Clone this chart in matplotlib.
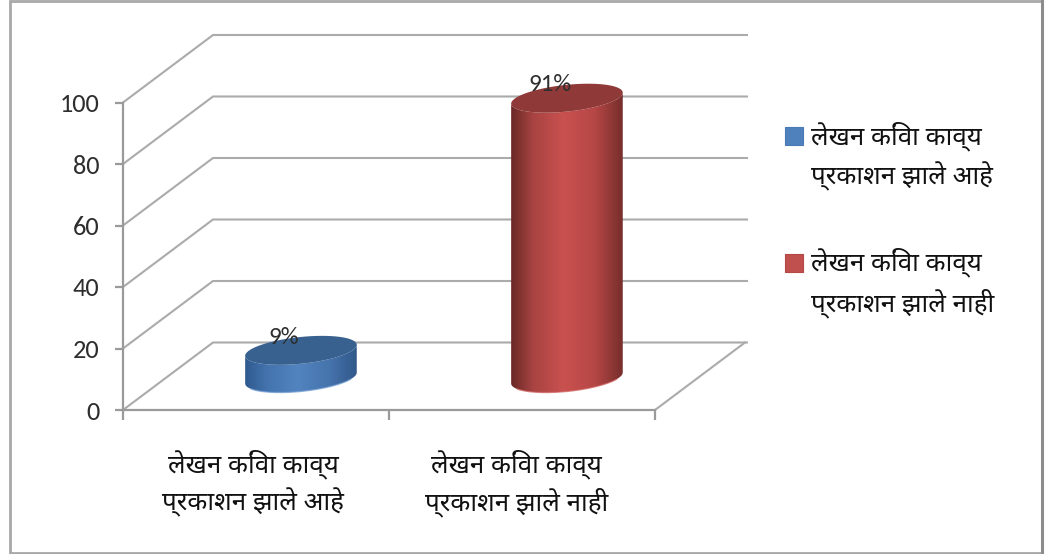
import warnings
import numpy as np
import matplotlib
matplotlib.use('Agg')
import matplotlib.pyplot as plt
from matplotlib import font_manager as fm
from matplotlib.colors import LinearSegmentedColormap
from matplotlib.legend_handler import HandlerPatch
from matplotlib.lines import Line2D
from matplotlib.patches import Patch, Polygon, PathPatch, Rectangle
from matplotlib.path import Path

warnings.filterwarnings('ignore')

# ---- data ----
categories = ['लेखन किंवा काव्य\nप्रकाशन झाले आहे', 'लेखन किंवा काव्य\nप्रकाशन झाले नाही']
values = [9, 91]
value_labels = ['9%', '91%']
y_ticks = [0, 20, 40, 60, 80, 100]

# ---- fonts ----
installed = {f.name for f in fm.fontManager.ttflist}
deva_pref = ['Noto Sans Devanagari', 'Hind', 'Mukta', 'Akshar', 'DejaVu Sans']
deva_fonts = [f for f in deva_pref if f in installed]
num_pref = ['Carlito', 'Lato', 'DejaVu Sans']
num_fonts = [f for f in num_pref if f in installed]
plt.rcParams['font.family'] = num_fonts

W, H = 1045, 554
fig = plt.figure(figsize=(W / 100, H / 100), dpi=100, facecolor='white')

# axes box in pixels: front-left corner (123, 410), back-right corner (747, 35)
L, R, B, T = 123, 747, 410, 35
ax = fig.add_axes([L / W, 1 - B / H, (R - L) / W, (B - T) / H])
px_x = 266.0   # pixels per category
px_y = 3.075   # pixels per value unit
ax.set_xlim(0, (R - L) / px_x)
ax.set_ylim(0, (B - T) / px_y)
ax.patch.set_alpha(0)

depth_x = 90 / px_x
depth_y = 67.5 / px_y
n = len(categories)
GRID = '#ababab'
LW = 1.5

# outer frame
fig.add_artist(Rectangle((10 / W, 1 - 553 / H), 1032 / W, 552 / H, transform=fig.transFigure,
                         fill=False, ec='#a8a8a8', lw=2.0))
fig.add_artist(Line2D([1042 / W, 1042 / W], [1 - 553 / H, 1 - 1 / H], transform=fig.transFigure,
                      color='#8c8c8c', lw=2.2))

# walls and floor
for v in y_ticks:
    ax.plot([0, depth_x, ax.get_xlim()[1]], [v, v + depth_y, v + depth_y],
            color=GRID, lw=LW, zorder=1, clip_on=False, solid_joinstyle='miter')
ax.plot([n, n + depth_x], [0, depth_y], color=GRID, lw=LW, zorder=1, clip_on=False)

# axes
for s in ['top', 'right']:
    ax.spines[s].set_visible(False)
for s in ['left', 'bottom']:
    ax.spines[s].set_color('#9a9a9a')
    ax.spines[s].set_linewidth(1.6)
ax.spines['left'].set_bounds(0, max(y_ticks))
ax.spines['bottom'].set_bounds(0, n)

ax.set_yticks(y_ticks)
ax.tick_params(axis='y', length=6, width=1.6, color='#9a9a9a', labelsize=19,
               labelcolor='#2e2e2e', pad=11)
centers = np.arange(n) + 0.5
ax.set_xticks(centers - np.array([0.01, 0.02]))
ax.set_xticklabels(categories, family=deva_fonts, fontsize=18.7, color='#111111', linespacing=1.36)
ax.tick_params(axis='x', which='major', length=0, pad=28.5)
ax.set_xticks(np.arange(n + 1), minor=True)
ax.tick_params(axis='x', which='minor', length=7.5, width=1.6, color='#9a9a9a')

# cylinders
a = 55.8 / px_x
b = 13.4 / px_y
s = 5.5 / px_y
base = 10.4
cx_off = 0.169
tt = np.linspace(np.pi, 2 * np.pi, 80)
tf = np.linspace(0, 2 * np.pi, 160)


def ell(cx, cy, t):
    return np.column_stack([cx + a * np.cos(t), cy + b * np.sin(t) + s * np.cos(t)])


stops = [0, 0.2, 0.47, 0.75, 1]
styles = [
    (['#2f5a8e', '#4474ae', '#5284bf', '#4674ad', '#31598a'], '#386190', '#6f9bd0'),
    (['#6a2826', '#a84442', '#c9514f', '#b54745', '#762e2c'], '#8f3a38', '#cf5f5c'),
]
for c, v, lab, (cols, top_col, rim) in zip(centers, values, value_labels, styles):
    cx = c + cx_off
    top = base + v
    body = np.vstack([ell(cx, base, tt), ell(cx, top, tt[::-1])])
    cm = LinearSegmentedColormap.from_list('g', list(zip(stops, cols)))
    im = ax.imshow(np.linspace(0, 1, 256)[None, :], cmap=cm, aspect='auto',
                   extent=(cx - a, cx + a, base - 10, top + 10), zorder=3, interpolation='bilinear')
    im.set_clip_path(PathPatch(Path(body), transform=ax.transData))
    low = ell(cx, base, tt[12:68])
    ax.plot(low[:, 0], low[:, 1], color=rim, lw=1.0, alpha=0.7, zorder=3.5)
    ax.add_patch(Polygon(ell(cx, top, tf), closed=True, fc=top_col, ec='none', zorder=4))
    ax.text(cx - 0.065, top + 4.3, lab, ha='center', va='center', fontsize=18,
            color='#2e2e2e', zorder=5)
ax.set_xlim(0, (R - L) / px_x)
ax.set_ylim(0, (B - T) / px_y)


# legend: swatch sits level with the first line of its label
def lowered_swatch(legend, orig_handle, xdescent, ydescent, width, height, fontsize):
    return Rectangle((-xdescent, -ydescent - 4.3), width, height)


handles = [Patch(fc='#4f81bd', ec='#4a7ab4', lw=0.8), Patch(fc='#c0504d', ec='#b54745', lw=0.8)]
leg = fig.legend(handles, categories, loc='upper left', bbox_to_anchor=(785 / W, 1 - 121 / H),
                 frameon=False, prop={'family': deva_fonts, 'size': 18.7}, handlelength=0.7,
                 handleheight=0.7, handletextpad=0.32, labelspacing=2.17, borderpad=0, borderaxespad=0,
                 handler_map={Patch: HandlerPatch(patch_func=lowered_swatch)})
for t in leg.get_texts():
    t.set_linespacing(1.5)
    t.set_color('#111111')
for col in leg._legend_handle_box.get_children():
    for row in col.get_children():
        row.align = 'top'

fig.savefig('out.png', dpi=100)
